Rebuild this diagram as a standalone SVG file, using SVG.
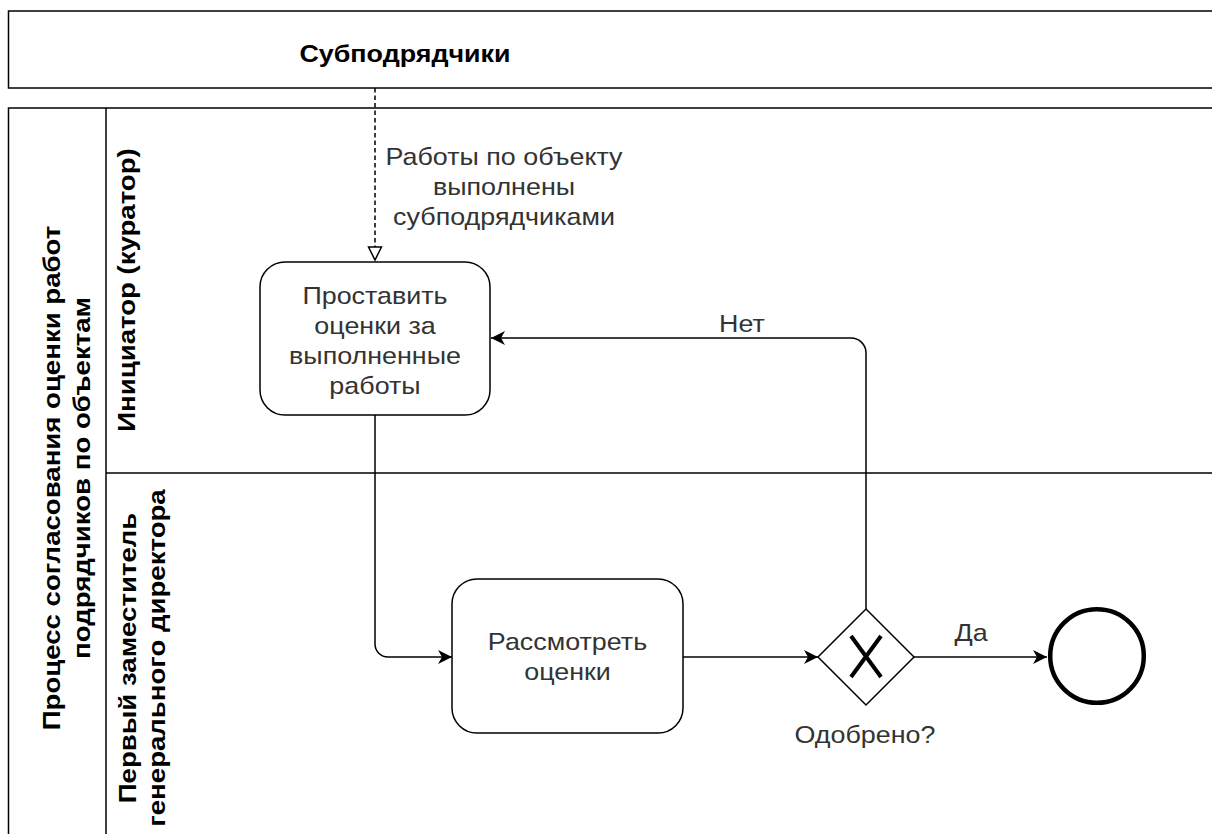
<svg xmlns="http://www.w3.org/2000/svg" width="1212" height="834" viewBox="0 0 1212 834">
<style>
.pool{fill:#fff;stroke:#000;stroke-width:1.5}
.ln{fill:none;stroke:#000;stroke-width:1.5}
.task{fill:#fff;stroke:#000;stroke-width:1.5}
.t{font-family:"Liberation Sans",Arial,sans-serif;font-size:24px;fill:#333;text-anchor:middle}
.b{font-family:"Liberation Sans",Arial,sans-serif;font-size:24px;font-weight:bold;fill:#000;text-anchor:middle}
</style>
<defs>
<marker id="arr" markerUnits="userSpaceOnUse" markerWidth="16" markerHeight="16" refX="14" refY="7" orient="auto" viewBox="0 0 16 14">
<path d="M0,0 L14,7 L0,14 L4,7 Z" fill="#000"/>
</marker>
<marker id="open" markerUnits="userSpaceOnUse" markerWidth="16" markerHeight="16" refX="14" refY="7" orient="auto" viewBox="0 0 16 14">
<path d="M1,0.5 L14,7 L1,13.5 Z" fill="#fff" stroke="#000" stroke-width="1.5"/>
</marker>
</defs>
<rect width="1212" height="834" fill="#fff"/>
<g id="pool-subcontractors">
<rect class="pool" x="8.5" y="11" width="1220" height="77"/>
<text class="b" transform="translate(405,62) scale(1.12,1)">Субподрядчики</text>
</g>
<g id="pool-process">
<rect class="pool" x="8.5" y="108" width="1220" height="740"/>
<line class="ln" x1="106" y1="108" x2="106" y2="848"/>
<line class="ln" x1="106" y1="473" x2="1212" y2="473"/>
<text class="b" transform="translate(52,478) rotate(-90) scale(1.15,1)" y="8">Процесс согласования оценки работ</text>
<text class="b" transform="translate(82,478) rotate(-90) scale(1.15,1)" y="8">подрядчиков по объектам</text>
</g>
<g id="lane-initiator">
<text class="b" transform="translate(127,290) rotate(-90) scale(1.15,1)" y="8">Инициатор (куратор)</text>
</g>
<g id="lane-deputy">
<text class="b" transform="translate(128,658) rotate(-90) scale(1.15,1)" y="8">Первый заместитель</text>
<text class="b" transform="translate(157,658) rotate(-90) scale(1.15,1)" y="8">генерального директора</text>
</g>
<g id="task-rate">
<rect class="task" x="260" y="262" width="230" height="153" rx="25"/>
<text class="t" transform="translate(375,304) scale(1.12,1)">Проставить</text>
<text class="t" transform="translate(375,334) scale(1.12,1)">оценки за</text>
<text class="t" transform="translate(375,364) scale(1.12,1)">выполненные</text>
<text class="t" transform="translate(375,394) scale(1.12,1)">работы</text>
</g>
<g id="task-review">
<rect class="task" x="452" y="579" width="231" height="154" rx="25"/>
<text class="t" transform="translate(567.5,650) scale(1.12,1)">Рассмотреть</text>
<text class="t" transform="translate(567.5,680) scale(1.12,1)">оценки</text>
</g>
<g id="gateway">
<polygon points="866,609 914,657 866,705 818,657" fill="#fff" stroke="#000" stroke-width="1.5"/>
<path d="M851,636 L881,677 M881,636 L851,677" stroke="#000" stroke-width="4" fill="none"/>
<text class="t" transform="translate(865,743) scale(1.12,1)">Одобрено?</text>
</g>
<g id="end-event">
<circle cx="1097" cy="656" r="46.8" fill="#fff" stroke="#000" stroke-width="4.5"/>
</g>
<g id="connectors">
<path class="ln" d="M375,88 V260" stroke-dasharray="4.5 3" marker-end="url(#open)"/>
<text class="t" transform="translate(504,165) scale(1.12,1)">Работы по объекту</text>
<text class="t" transform="translate(504,195) scale(1.12,1)">выполнены</text>
<text class="t" transform="translate(504,225) scale(1.12,1)">субподрядчиками</text>
<path class="ln" d="M375,415 V644 A13,13 0 0 0 388,657 H452" marker-end="url(#arr)"/>
<path class="ln" d="M683,657 H818" marker-end="url(#arr)"/>
<path class="ln" d="M914,657 H1047" marker-end="url(#arr)"/>
<text class="t" transform="translate(971,641) scale(1.12,1)">Да</text>
<path class="ln" d="M866,609 V353 A15,15 0 0 0 851,338 H491" marker-end="url(#arr)"/>
<text class="t" transform="translate(742,332) scale(1.12,1)">Нет</text>
</g>
</svg>
